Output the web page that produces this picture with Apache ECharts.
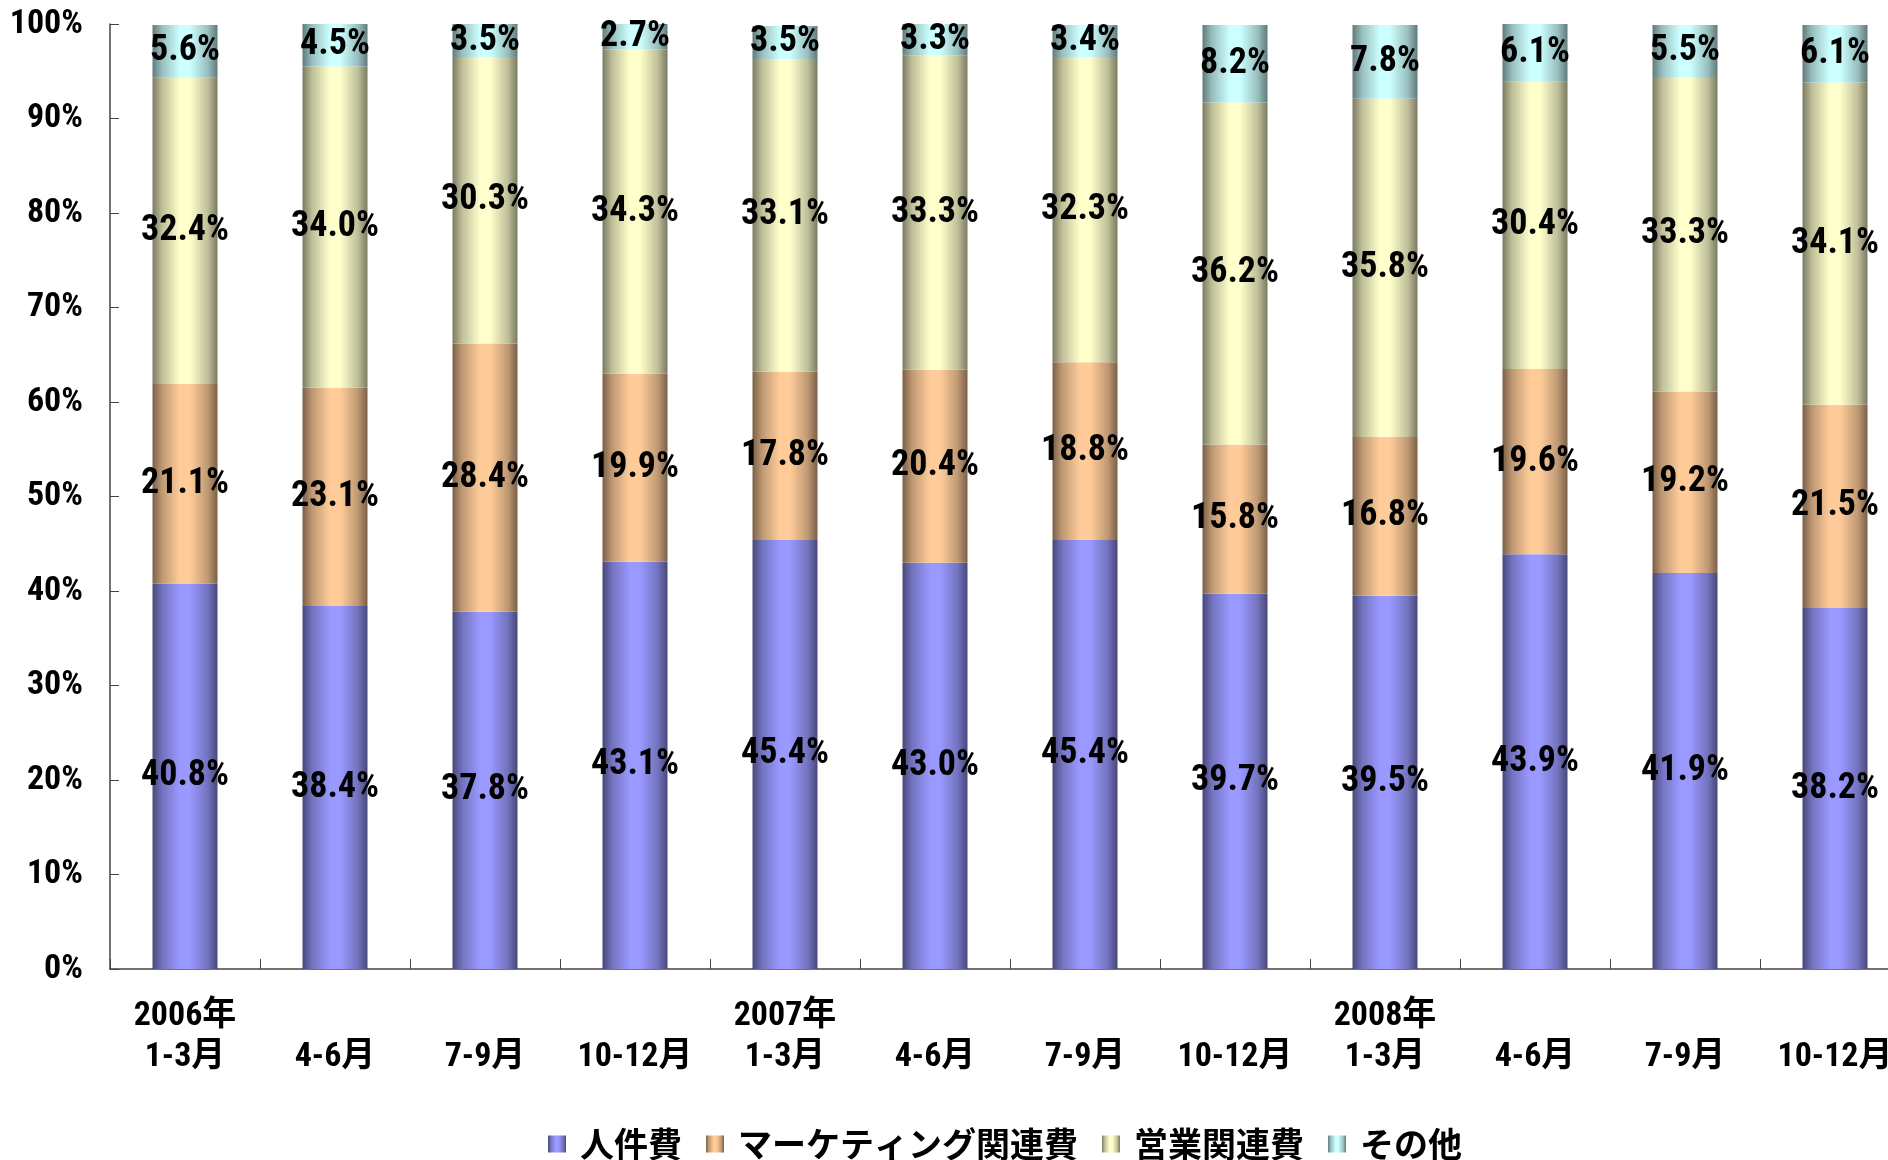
<!DOCTYPE html>
<html>
<head>
<meta charset="utf-8">
<script src="https://cdn.jsdelivr.net/npm/echarts@6/dist/echarts.min.js"></script>
<style>
html,body{margin:0;padding:0;background:#fff;}
#chart{width:1888px;height:1160px;}
</style>
</head>
<body>
<div id="chart"></div>
<script>
var categories = ['2006年\n1-3月','\n4-6月','\n7-9月','\n10-12月','2007年\n1-3月','\n4-6月','\n7-9月','\n10-12月','2008年\n1-3月','\n4-6月','\n7-9月','\n10-12月'];
var seriesNames = ['人件費','マーケティング関連費','営業関連費','その他'];
var personnel = [40.8,38.4,37.8,43.1,45.4,43.0,45.4,39.7,39.5,43.9,41.9,38.2];
var marketing = [21.1,23.1,28.4,19.9,17.8,20.4,18.8,15.8,16.8,19.6,19.2,21.5];
var sales = [32.4,34.0,30.3,34.3,33.1,33.3,32.3,36.2,35.8,30.4,33.3,34.1];
var other = [5.6,4.5,3.5,2.7,3.5,3.3,3.4,8.2,7.8,6.1,5.5,6.1];

var NUMFONT = "'Roboto Condensed','Liberation Sans Narrow','Noto Sans CJK JP',sans-serif";
var CJKFONT = "'Noto Sans CJK JP',sans-serif";

function grad(dark, mid, light){
  return new echarts.graphic.LinearGradient(0,0,1,0,[
    {offset:0,color:dark},{offset:0.15,color:mid},{offset:0.42,color:light},
    {offset:0.58,color:light},{offset:0.85,color:mid},{offset:1,color:dark}
  ]);
}
var colors = [
  grad('#48487a','#7373bf','#9999ff'),
  grad('#7a6049','#bf9973','#ffcc99'),
  grad('#7a7a61','#bfbf99','#ffffcc'),
  grad('#617a7a','#99bfbf','#ccffff')
];
var dataSets = [personnel, marketing, sales, other];

var series = dataSets.map(function(d, i){
  return {
    name: seriesNames[i],
    type: 'bar',
    stack: 'total',
    barWidth: 65,
    data: d,
    itemStyle: {color: colors[i]},
    label: {
      show: true,
      position: 'inside',
      formatter: function(p){ return p.value.toFixed(1) + '%'; },
      color: '#000',
      fontFamily: NUMFONT,
      fontWeight: 'bold',
      fontSize: 36
    }
  };
});

var chart = echarts.init(document.getElementById('chart'));
chart.setOption({
  animation: false,
  backgroundColor: '#fff',
  grid: {left: 110, top: 24, bottom: 191, width: 1800, containLabel: false, outerBoundsMode: 'none'},
  legend: {
    data: seriesNames,
    top: 1127,
    left: 548,
    padding: 0,
    icon: 'rect',
    itemWidth: 18,
    itemHeight: 17,
    itemGap: 24,
    textStyle: {fontFamily: CJKFONT, fontWeight: 'bold', fontSize: 34, color: '#000', padding: [0,0,0,9]}
  },
  xAxis: {
    type: 'category',
    data: categories,
    boundaryGap: true,
    axisLine: {show: true, lineStyle: {color: '#444', width: 1.5}},
    axisTick: {show: true, inside: true, length: 10, interval: 0, lineStyle: {color: '#444'}},
    axisLabel: {
      interval: 0,
      margin: 27,
      color: '#000',
      fontFamily: NUMFONT,
      fontWeight: 'bold',
      fontSize: 34,
      lineHeight: 41
    }
  },
  yAxis: {
    type: 'value',
    min: 0,
    max: 100,
    interval: 10,
    splitLine: {show: false},
    axisLine: {show: true, lineStyle: {color: '#444', width: 1.5}},
    axisTick: {show: true, inside: true, length: 9, lineStyle: {color: '#444'}},
    axisLabel: {
      formatter: '{value}%',
      margin: 27,
      color: '#000',
      fontFamily: NUMFONT,
      fontWeight: 'bold',
      fontSize: 34
    }
  },
  series: series
});
</script>
</body>
</html>
